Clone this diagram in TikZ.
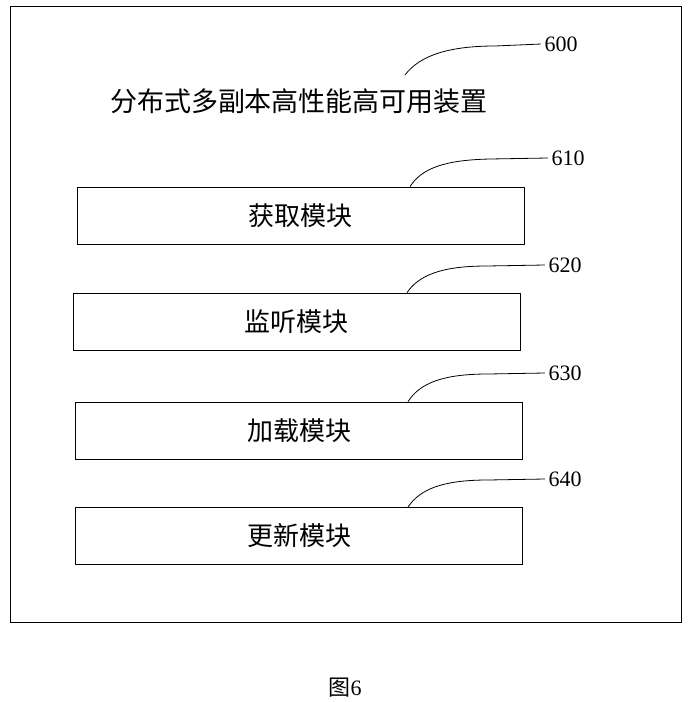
\documentclass[tikz,border=0pt]{standalone}
\usepackage{fontspec}
\setmainfont{Liberation Serif}
\newfontfamily\cjk{Noto Sans CJK SC}
\usepackage{tikz}
\usetikzlibrary{positioning}

\begin{document}
\begin{tikzpicture}[
    x=1pt, y=-1pt,
    module/.style={rectangle, draw, line width=0.8pt, minimum width=447pt, minimum height=57pt,
                   font=\cjk\fontsize{26}{30}\selectfont},
    refnum/.style={font=\fontsize{22}{26}\selectfont},
    leader/.style={line width=0.8pt}
]
    \useasboundingbox (0,0) rectangle (690,702);
    % Frame
    \node[draw, line width=0.8pt, minimum width=671pt, minimum height=616pt, anchor=north west, inner sep=0pt] (frame) at (10,6) {};
    \node[font=\cjk\fontsize{27}{31}\selectfont] (title) at (299,101) {分布式多副本高性能高可用装置};
    \node[refnum] (n600) at (561,44) {600};
    \coordinate (t600) at (405,75);
    \draw[leader] (t600) .. controls (420,55) and (450,46) .. (495,46) -- (n600.west);

    % Modules
    \node[module] (m1) at (300.5,215.5) {获取模块};
    \node[module] (m2) at (296.5,321.5) {监听模块};
    \node[module] (m3) at (299,430.5) {加载模块};
    \node[module] (m4) at (299,536) {更新模块};

    % Reference numbers
    \node[refnum] (n610) at (568,158) {610};
    \node[refnum] (n620) at (565,265) {620};
    \node[refnum] (n630) at (565,373) {630};
    \node[refnum] (n640) at (565,479) {640};

    \draw[leader] (m1.north -| 410,0) .. controls (422,168) and (445,160) .. (490,159) -- (n610.west);
    \draw[leader] (m2.north -| 407,0) .. controls (419,275) and (442,266) .. (487,266) -- (n620.west);
    \draw[leader] (m3.north -| 408,0) .. controls (420,383) and (443,374) .. (488,374) -- (n630.west);
    \draw[leader] (m4.north -| 408,0) .. controls (420,489) and (443,480) .. (488,480) -- (n640.west);

    % Caption
    \node[font=\fontsize{22}{26}\selectfont] (caption) at (345,688) {{\cjk 图}6};
\end{tikzpicture}
\end{document}
